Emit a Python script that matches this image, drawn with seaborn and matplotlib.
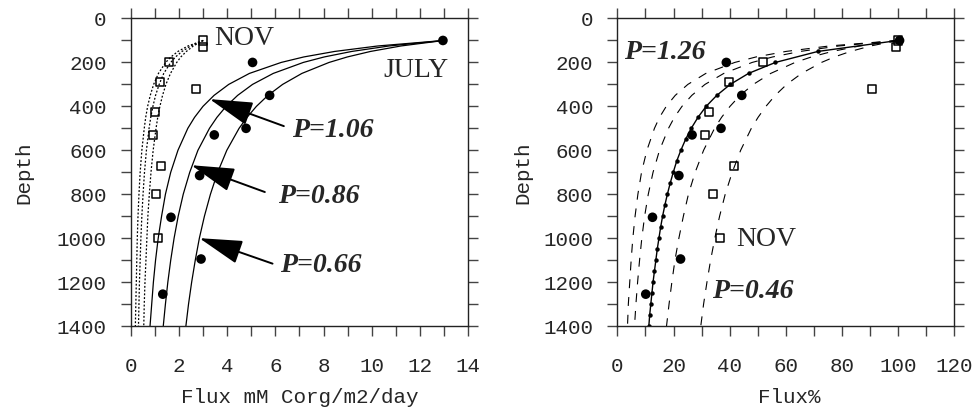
import matplotlib.pyplot as plt
import seaborn as sns
from matplotlib.ticker import MultipleLocator

# depth grid of the model curves (m)
curve_depth = [100, 125, 150, 175, 200, 250, 300, 350, 400, 450, 500,
               600, 700, 800, 900, 1000, 1100, 1200, 1300, 1400]

# left panel, flux in mM Corg/m2/day
july_depth = [100, 200, 350, 500, 530, 715, 905, 1095, 1255]
july_flux = [12.96, 5.05, 5.76, 4.78, 3.46, 2.85, 1.66, 2.91, 1.32]
nov_depth = [100, 130, 200, 290, 320, 425, 530, 670, 800, 1000]
nov_flux = [2.98, 2.98, 1.57, 1.20, 2.70, 1.00, 0.93, 1.25, 1.04, 1.11]

july_p066 = [13.0, 11.22, 9.95, 8.99, 8.23, 7.10, 6.30, 5.69, 5.21, 4.82, 4.49,
             3.98, 3.60, 3.30, 3.05, 2.84, 2.67, 2.52, 2.39, 2.28]
july_p086 = [13.0, 10.73, 9.17, 8.03, 7.16, 5.91, 5.05, 4.43, 3.95, 3.57, 3.26,
             2.78, 2.44, 2.17, 1.96, 1.79, 1.65, 1.53, 1.43, 1.34]
july_p106 = [13.0, 10.26, 8.46, 7.18, 6.24, 4.92, 4.06, 3.45, 2.99, 2.64, 2.36,
             1.95, 1.65, 1.43, 1.27, 1.13, 1.02, 0.93, 0.86, 0.79]
nov_p066 = [3.0, 2.59, 2.30, 2.07, 1.90, 1.64, 1.45, 1.31, 1.20, 1.11, 1.04,
            0.92, 0.83, 0.76, 0.70, 0.66, 0.62, 0.58, 0.55, 0.53]
nov_p086 = [3.0, 2.48, 2.12, 1.85, 1.65, 1.36, 1.17, 1.02, 0.91, 0.82, 0.75,
            0.64, 0.56, 0.50, 0.45, 0.41, 0.38, 0.35, 0.33, 0.31]
nov_p106 = [3.0, 2.37, 1.95, 1.66, 1.44, 1.14, 0.94, 0.80, 0.69, 0.61, 0.55,
            0.45, 0.38, 0.33, 0.29, 0.26, 0.24, 0.22, 0.20, 0.18]

# right panel, flux as % of the 100 m value
july_pct = [100.5, 38.8, 44.3, 36.9, 26.6, 21.9, 12.5, 22.5, 10.1]
nov_pct = [100.0, 99.3, 52.0, 39.8, 90.8, 32.6, 31.2, 41.6, 34.2, 36.4]

pct_p046 = [100, 90.2, 83.0, 77.3, 72.7, 65.6, 60.3, 56.2, 52.9, 50.1, 47.7,
            43.9, 40.9, 38.4, 36.4, 34.7, 33.2, 31.9, 30.7, 29.7]
pct_p066 = [100, 86.3, 76.5, 69.1, 63.3, 54.6, 48.4, 43.7, 40.1, 37.1, 34.6,
            30.7, 27.7, 25.3, 23.5, 21.9, 20.5, 19.4, 18.4, 17.5]
pct_p106 = [100, 78.9, 65.1, 55.3, 48.0, 37.9, 31.2, 26.5, 23.0, 20.3, 18.2,
            15.0, 12.7, 11.0, 9.7, 8.7, 7.9, 7.2, 6.6, 6.1]
pct_p126 = [100, 75.5, 60.0, 49.4, 41.8, 31.5, 25.1, 20.6, 17.4, 15.0, 13.2,
            10.5, 8.6, 7.3, 6.3, 5.5, 4.9, 4.4, 3.9, 3.6]

# fitted curve with a dot every 50 m
fit_depth = [100, 150, 200, 250, 300, 350, 400, 450, 500, 550, 600, 650, 700, 750,
             800, 850, 900, 950, 1000, 1050, 1100, 1150, 1200, 1250, 1300, 1350, 1400]
fit_pct = [100, 71.4, 56.3, 46.7, 40.2, 35.4, 31.6, 28.7, 26.3, 24.3, 22.6, 21.1, 19.9, 18.8,
           17.8, 16.9, 16.1, 15.4, 14.8, 14.2, 13.7, 13.2, 12.7, 12.3, 11.9, 11.5, 11.2]

sns.set_style("ticks")
plt.rcParams["font.family"] = ["Liberation Mono", "DejaVu Sans Mono"]
plt.rcParams["font.size"] = 15

fig, (ax1, ax2) = plt.subplots(1, 2, figsize=(9.77, 4.12), dpi=100)
fig.subplots_adjust(left=0.1341, right=0.9768, bottom=0.2087, top=0.9551, wspace=0.4435)

serif = ["Liberation Serif", "DejaVu Serif"]
dot = (0, (1.5, 1.5))
dash = (0, (8, 8))

# ---- left panel
for vals in [july_p066, july_p086, july_p106]:
    sns.lineplot(x=vals, y=curve_depth, ax=ax1, sort=False, estimator=None,
                 color="black", lw=0.9)
for vals in [nov_p066, nov_p086, nov_p106]:
    sns.lineplot(x=vals, y=curve_depth, ax=ax1, sort=False, estimator=None,
                 color="black", lw=0.9, linestyle=dot)
sns.scatterplot(x=nov_flux, y=nov_depth, ax=ax1, marker="s", s=34,
                facecolor="none", edgecolor="black", linewidth=1.1, zorder=4)
sns.scatterplot(x=july_flux, y=july_depth, ax=ax1, marker="o", s=48,
                color="black", edgecolor="none", zorder=5)

ax1.text(3.44, 93, "NOV", family=serif, fontsize=20, va="center", ha="left")
ax1.text(10.47, 238, "JULY", family=serif, fontsize=20, va="center", ha="left")
labels_left = [("P=1.06", 6.71, 512, (3.27, 367), (6.35, 490)),
               ("P=0.86", 6.09, 812, (2.51, 668), (5.56, 790)),
               ("P=0.66", 6.20, 1124, (2.84, 1000), (5.88, 1116))]
for txt, tx, ty, tip, tail in labels_left:
    ax1.text(tx, ty, txt, family=serif, fontsize=20, style="italic",
             weight="bold", va="center", ha="left")
    ax1.annotate("", xy=tip, xytext=tail,
                 arrowprops=dict(arrowstyle="-|>,head_length=2.7,head_width=0.75",
                                 mutation_scale=10, lw=1.4, color="black",
                                 shrinkA=0, shrinkB=0))

# ---- right panel
for vals in [pct_p046, pct_p066, pct_p106, pct_p126]:
    sns.lineplot(x=vals, y=curve_depth, ax=ax2, sort=False, estimator=None,
                 color="black", lw=0.8, linestyle=dash)
sns.lineplot(x=fit_pct, y=fit_depth, ax=ax2, sort=False, estimator=None,
             color="black", lw=1.0, marker="o", markersize=3.2, markeredgewidth=0)
sns.scatterplot(x=nov_pct, y=nov_depth, ax=ax2, marker="s", s=34,
                facecolor="none", edgecolor="black", linewidth=1.1, zorder=4)
sns.scatterplot(x=july_pct, y=july_depth, ax=ax2, marker="o", s=48,
                color="black", edgecolor="none", zorder=5)

ax2.text(2.5, 155, "P=1.26", family=serif, fontsize=20, style="italic",
         weight="bold", va="center", ha="left")
ax2.text(42.2, 1005, "NOV", family=serif, fontsize=20, va="center", ha="left")
ax2.text(33.8, 1242, "P=0.46", family=serif, fontsize=20, style="italic",
         weight="bold", va="center", ha="left")

# ---- axes styling
for ax, xmax, major, minor in [(ax1, 14, 2, 1), (ax2, 120, 20, 10)]:
    ax.set_xlim(0, xmax)
    ax.set_ylim(1400, 0)
    ax.xaxis.set_major_locator(MultipleLocator(major))
    ax.xaxis.set_minor_locator(MultipleLocator(minor))
    ax.yaxis.set_major_locator(MultipleLocator(200))
    ax.yaxis.set_minor_locator(MultipleLocator(100))
    ax.tick_params(which="both", direction="out", length=7, width=1.0,
                   color="#444444", top=True, right=True)
    ax.tick_params(axis="x", which="major", pad=15)
    ax.tick_params(axis="y", which="major", pad=10.5)
    for sp in ax.spines.values():
        sp.set_linewidth(1.0)
        sp.set_color("#222222")
    ax.set_ylabel("Depth", fontsize=15)

ax1.set_xlabel("Flux mM Corg/m2/day", fontsize=15)
ax2.set_xlabel("Flux%", fontsize=15)
ax1.yaxis.set_label_coords(-0.289, 0.5)
ax2.yaxis.set_label_coords(-0.253, 0.5)
ax1.xaxis.set_label_coords(0.5, -0.2016)
ax2.xaxis.set_label_coords(0.51, -0.2016)

fig.savefig("out.png", dpi=100)
